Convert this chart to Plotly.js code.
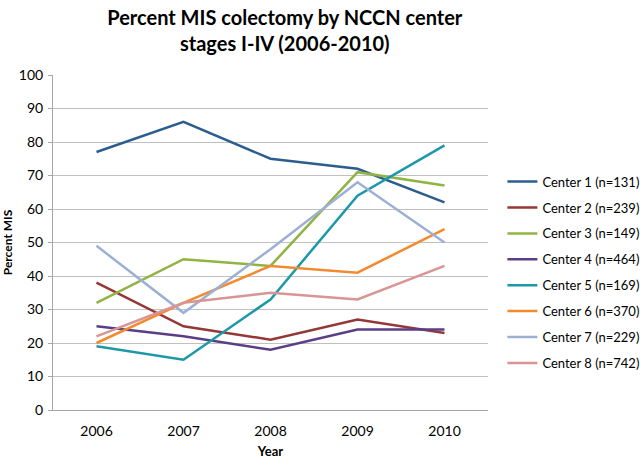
<!DOCTYPE html>
<html><head><meta charset="utf-8">
<script src="https://cdn.plot.ly/plotly-3.0.1.min.js"></script>
<style>html,body{margin:0;padding:0;background:#fff}#c{width:640px;height:459px}</style>
</head><body><div id="c"></div>
<script>
const years = ['2006','2007','2008','2009','2010'];
const names = ['Center 1 (n=131)','Center 2 (n=239)','Center 3 (n=149)','Center 4 (n=464)','Center 5 (n=169)','Center 6 (n=370)','Center 7 (n=229)','Center 8 (n=742)'];
const center1 = [77, 86, 75, 72, 62];
const center2 = [38, 25, 21, 27, 23];
const center3 = [32, 45, 43, 71, 67];
const center4 = [25, 22, 18, 24, 24];
const center5 = [19, 15, 33, 64, 79];
const center6 = [20, 32, 43, 41, 54];
const center7 = [49, 29, 48, 68, 50];
const center8 = [22, 32, 35, 33, 43];
const yTicks = [0,10,20,30,40,50,60,70,80,90,100];

const series = [center1, center2, center3, center4, center5, center6, center7, center8];
const colors = ['#2B5E8E','#953735','#8FB443','#5A3E86','#1D98A8','#F28A2E','#9DB0D4','#D99594'];
const traces = series.map((s,i)=>({
  x: years, y: s, name: names[i], type:'scatter', mode:'lines',
  legendgroup: 'g'+i,
  line:{color:colors[i], width:2.5}
}));
const font = "Lato, 'Open Sans', sans-serif";
const layout = {
  width:640, height:459,
  margin:{l:53, r:152, t:75, b:49, autoexpand:false},
  paper_bgcolor:'#fff', plot_bgcolor:'#fff',
  font:{family:font, color:'#000', size:13},
  title:{text:'<b>Percent MIS colectomy by NCCN center<br>stages I-IV (2006-2010)</b>', font:{family:font, size:20, color:'#000'}, x:0.445, xanchor:'center', y:0.945, yanchor:'top'},
  xaxis:{type:'category', range:[-0.5,4.5], showgrid:false, showline:true, linecolor:'#a6a6a6', linewidth:1, ticks:'', zeroline:false,
    ticklabelstandoff:8, tickfont:{size:14}, title:{text:'<b>Year</b>', font:{size:13}, standoff:14}},
  yaxis:{range:[0,100], tickvals:yTicks, showgrid:true, gridcolor:'#c0c0c0', gridwidth:1, showline:true, linecolor:'#a6a6a6', ticks:'outside', ticklen:4, tickcolor:'#a6a6a6', zeroline:false,
    ticklabelstandoff:2, tickfont:{size:14}, title:{text:'<b>Percent MIS</b>', font:{size:12}, standoff:8}},
  legend:{xref:'container', x:0.785, y:0.41, xanchor:'left', yanchor:'middle', traceorder:'grouped', tracegroupgap:6, font:{size:13}, itemwidth:30},
  showlegend:true
};
Plotly.newPlot('c', traces, layout, {staticPlot:true});
</script></body></html>
